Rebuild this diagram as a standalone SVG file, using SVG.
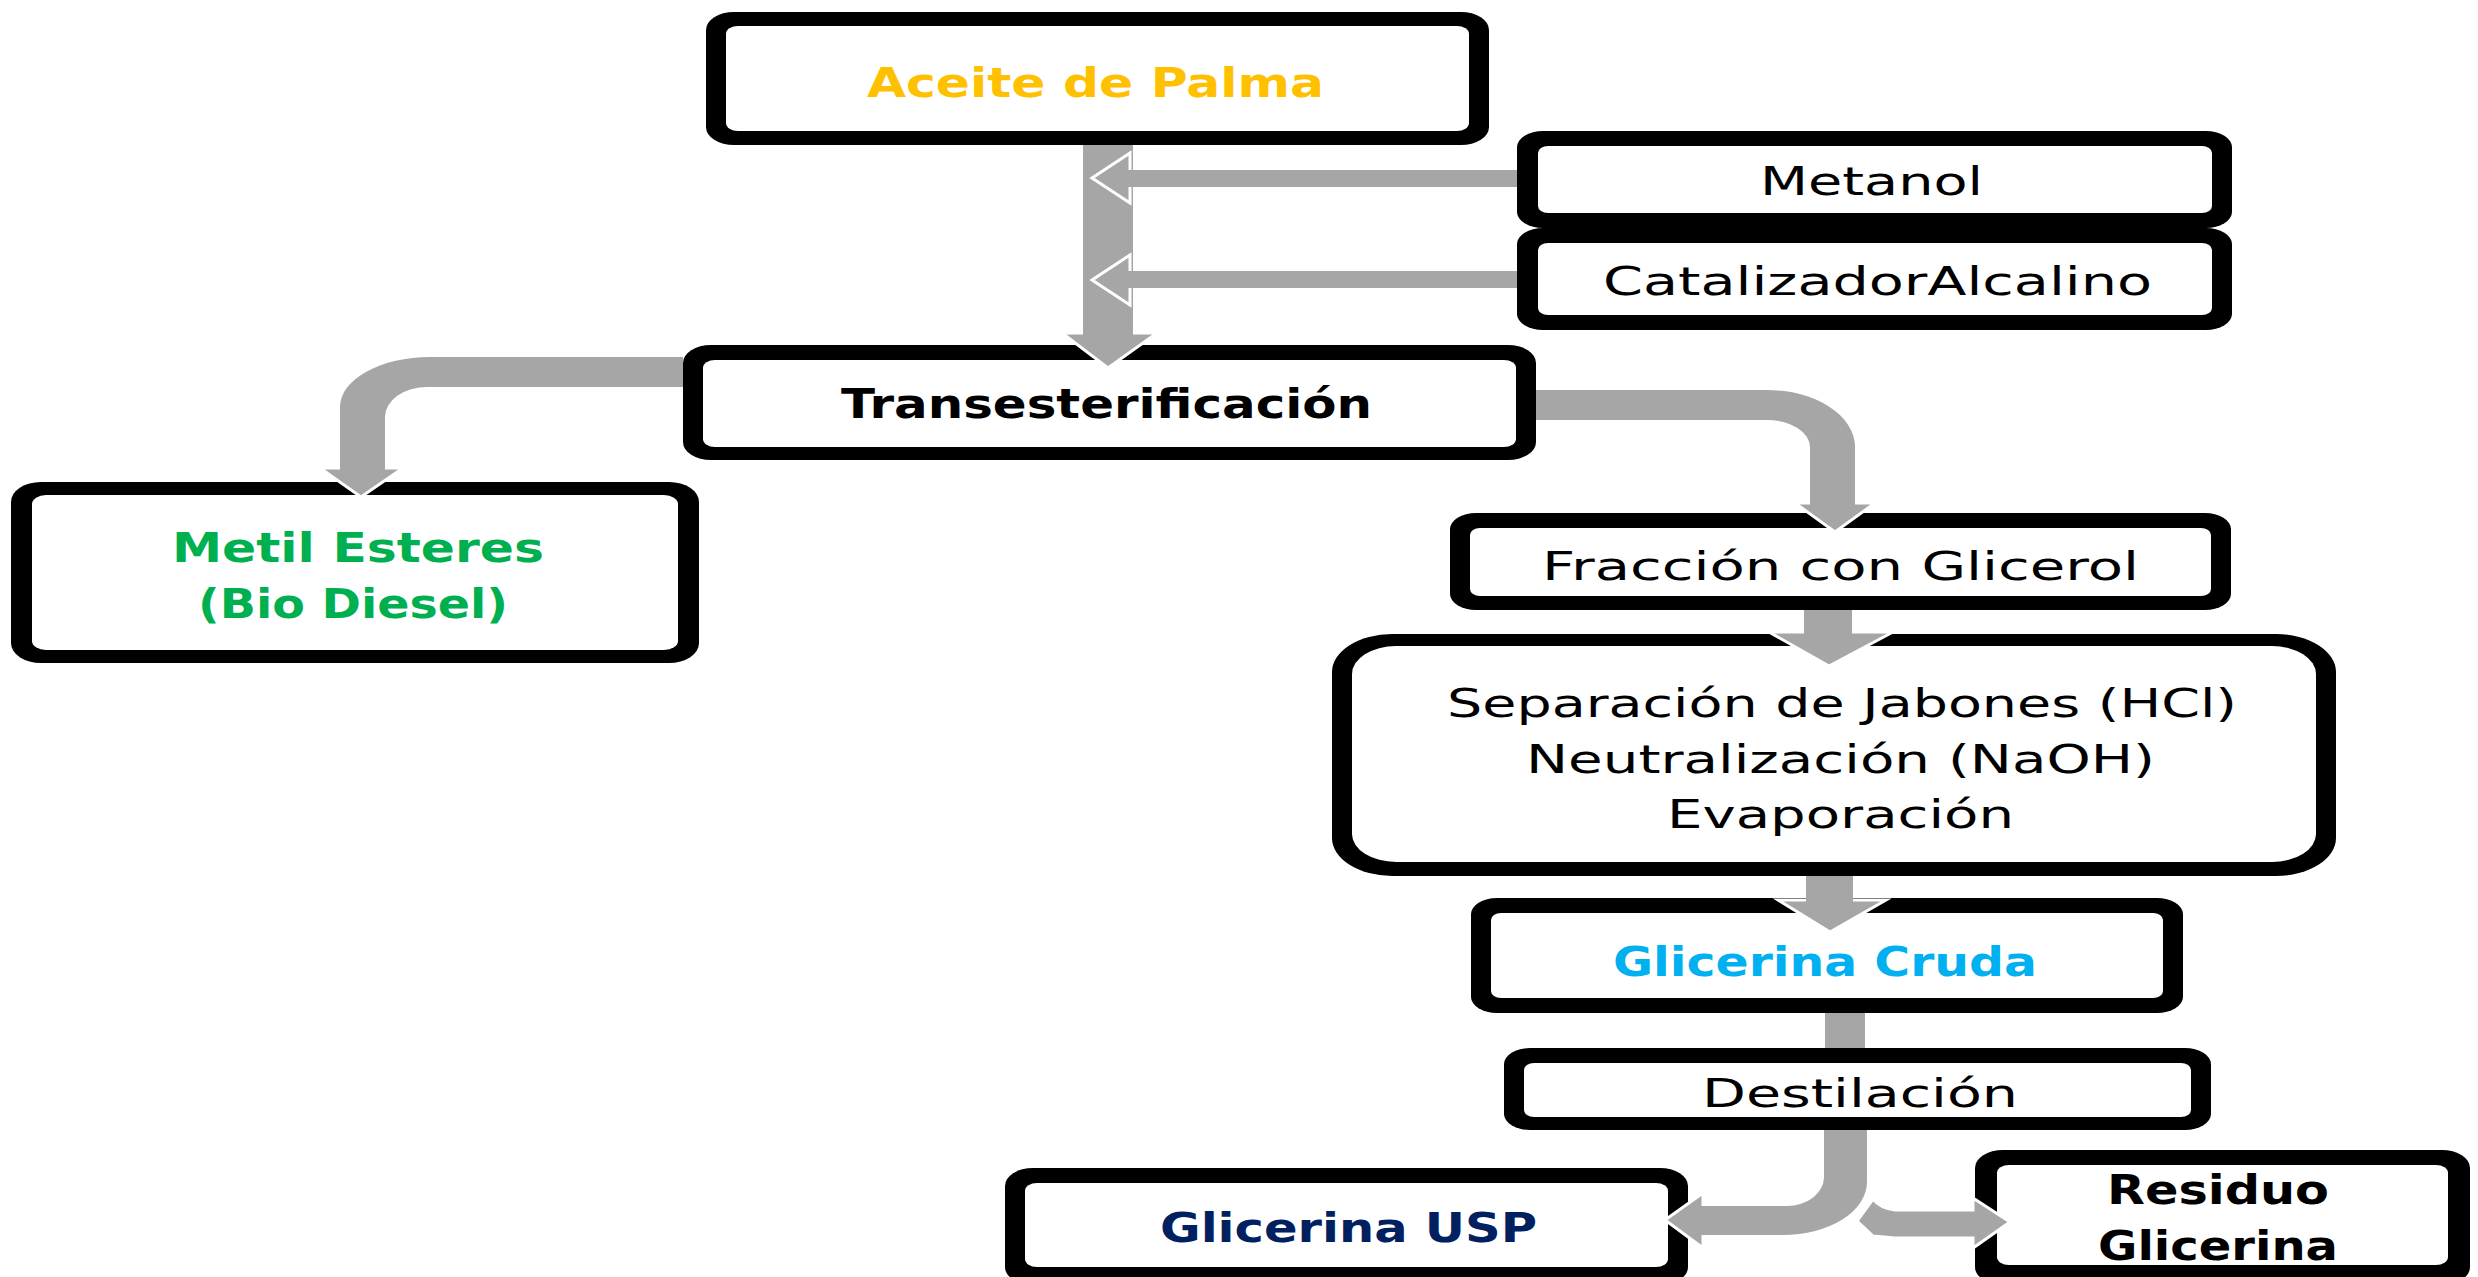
<svg xmlns="http://www.w3.org/2000/svg" width="2478" height="1277" viewBox="0 0 2478 1277">
<style>
.bo{fill:#000}
.bi{fill:#fff}
.sh{fill:#A6A6A6}
.hd{fill:#A6A6A6;stroke:#fff;stroke-width:3;stroke-linejoin:miter}
.b{font-family:"DejaVu Sans","Liberation Sans",sans-serif;font-weight:bold;font-size:41px}
.r{font-family:"DejaVu Sans","Liberation Sans",sans-serif;font-size:39px;fill:#000}
</style>
<rect width="2478" height="1277" fill="#fff"/>
<g id="aceite">
<rect class="bo" x="706" y="12" width="783" height="133" rx="28" ry="18"/>
<rect class="bi" x="726" y="26" width="743" height="105" rx="12" ry="8"/>
<text class="b" x="867" y="97" textLength="457" lengthAdjust="spacingAndGlyphs" fill="#FFC000">Aceite de Palma</text>
</g>
<g id="metanol">
<rect class="bo" x="1517" y="131" width="715" height="97" rx="26" ry="16"/>
<rect class="bi" x="1538" y="146" width="674" height="67" rx="10" ry="7"/>
<text class="r" x="1760" y="195" textLength="223" lengthAdjust="spacingAndGlyphs">Metanol</text>
</g>
<g id="catalizador">
<rect class="bo" x="1517" y="228" width="715" height="102" rx="26" ry="16"/>
<rect class="bi" x="1538" y="243" width="674" height="72" rx="10" ry="7"/>
<text class="r" x="1603" y="295" textLength="549" lengthAdjust="spacingAndGlyphs">CatalizadorAlcalino</text>
</g>
<g id="transesterificacion">
<rect class="bo" x="683" y="345" width="853" height="115" rx="28" ry="18"/>
<rect class="bi" x="703" y="360" width="813" height="87" rx="12" ry="8"/>
<text class="b" x="841" y="418" textLength="531" lengthAdjust="spacingAndGlyphs" fill="#000">Transesterificación</text>
</g>
<g id="metil">
<rect class="bo" x="11" y="482" width="688" height="181" rx="30" ry="20"/>
<rect class="bi" x="32" y="495" width="646" height="155" rx="14" ry="9"/>
<text class="b" x="172" y="562" textLength="372" lengthAdjust="spacingAndGlyphs" fill="#00B050">Metil Esteres</text>
<text class="b" x="198" y="618" textLength="310" lengthAdjust="spacingAndGlyphs" fill="#00B050">(Bio Diesel)</text>
</g>
<g id="fraccion">
<rect class="bo" x="1450" y="513" width="781" height="97" rx="26" ry="16"/>
<rect class="bi" x="1470" y="528" width="741" height="68" rx="10" ry="7"/>
<text class="r" x="1542" y="580" textLength="597" lengthAdjust="spacingAndGlyphs">Fracción con Glicerol</text>
</g>
<g id="separacion">
<rect class="bo" x="1332" y="634" width="1004" height="242" rx="60" ry="38"/>
<rect class="bi" x="1352" y="646" width="964" height="216" rx="44" ry="28"/>
<text class="r" x="1447" y="717" textLength="790" lengthAdjust="spacingAndGlyphs">Separación de Jabones (HCl)</text>
<text class="r" x="1526" y="773" textLength="629" lengthAdjust="spacingAndGlyphs">Neutralización (NaOH)</text>
<text class="r" x="1667" y="828" textLength="347" lengthAdjust="spacingAndGlyphs">Evaporación</text>
</g>
<g id="cruda">
<rect class="bo" x="1471" y="898" width="712" height="115" rx="26" ry="16"/>
<rect class="bi" x="1491" y="913" width="672" height="85" rx="10" ry="7"/>
<text class="b" x="1613" y="976" textLength="424" lengthAdjust="spacingAndGlyphs" fill="#00B0F0">Glicerina Cruda</text>
</g>
<g id="destilacion">
<rect class="bo" x="1504" y="1048" width="707" height="82" rx="26" ry="16"/>
<rect class="bi" x="1524" y="1063" width="667" height="54" rx="10" ry="7"/>
<text class="r" x="1702" y="1107" textLength="316" lengthAdjust="spacingAndGlyphs">Destilación</text>
</g>
<g id="usp">
<rect class="bo" x="1005" y="1168" width="683" height="117" rx="28" ry="18"/>
<rect class="bi" x="1025" y="1183" width="643" height="84" rx="12" ry="8"/>
<text class="b" x="1160" y="1242" textLength="377" lengthAdjust="spacingAndGlyphs" fill="#002060">Glicerina USP</text>
</g>
<g id="residuo">
<rect class="bo" x="1975" y="1150" width="495" height="135" rx="28" ry="18"/>
<rect class="bi" x="1997" y="1165" width="451" height="100" rx="12" ry="8"/>
<text class="b" x="2107" y="1204" textLength="222" lengthAdjust="spacingAndGlyphs" fill="#000">Residuo</text>
<text class="b" x="2098" y="1260" textLength="240" lengthAdjust="spacingAndGlyphs" fill="#000">Glicerina</text>
</g>
<g id="connectors">
<polygon class="hd" points="1062,333 1157,333 1108,368"/>
<rect class="sh" x="1083" y="145" width="50" height="191"/>
<polygon class="hd" points="1130,153 1092,178 1130,203"/>
<rect class="sh" x="1127" y="170" width="390" height="17"/>
<polygon class="hd" points="1130,255 1092,280 1130,305"/>
<rect class="sh" x="1127" y="271" width="390" height="17"/>
<polygon class="hd" points="320,468 403,468 361,497"/>
<path class="sh" d="M683,357 L430,357 A90 50 0 0 0 340,407 L340,471 L385,471 L385,417 A42 30 0 0 1 427,387 L683,387 Z"/>
<polygon class="hd" points="1795,503 1875,503 1835,532"/>
<path class="sh" d="M1536,390 L1767,390 A88 57 0 0 1 1855,447 L1855,506 L1810,506 L1810,447 A43 27 0 0 0 1767,420 L1536,420 Z"/>
<polygon class="hd" points="1769,632 1893,632 1829,666"/>
<rect class="sh" x="1804" y="610" width="48" height="25"/>
<polygon class="hd" points="1778,900 1886,900 1830,932"/>
<rect class="sh" x="1806" y="876" width="47" height="27"/>
<rect class="sh" x="1825" y="1013" width="40" height="35"/>
<polygon class="hd" points="1703,1193 1665,1220 1703,1248"/>
<path class="sh" d="M1824,1130 L1867,1130 L1867,1182 A84 53 0 0 1 1783,1235 L1700,1235 L1700,1206 L1787,1206 A37 29 0 0 0 1824,1177 Z"/>
<path class="hd" d="M1857,1221 L1873,1199 Q1880,1208 1895,1210 L1973,1210 L1973,1198 L2010,1222 L1973,1248 L1973,1238 L1895,1238 L1873,1236 Z"/>
</g>
</svg>
